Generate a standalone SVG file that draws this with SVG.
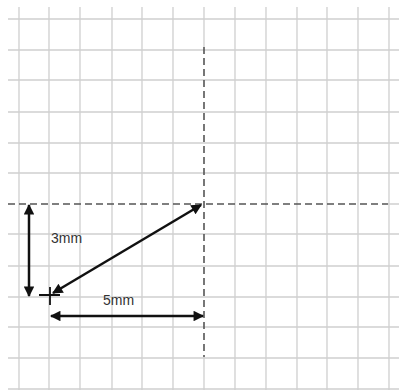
<svg xmlns="http://www.w3.org/2000/svg" width="399" height="390" viewBox="0 0 399 390">
<defs>
<style>
.grid{stroke:#cfcfcf;stroke-width:1.3;fill:none}
.dash{stroke:#555;stroke-width:1.6;stroke-dasharray:7 4;fill:none}
.arr{stroke:#111;stroke-width:2.5;fill:none;marker-start:url(#ah);marker-end:url(#ah)}
.lbl{font-family:"Liberation Sans",Arial,sans-serif;font-size:14px;fill:#333}
</style>
<marker id="ah" viewBox="0 0 10 10" refX="9" refY="5" markerWidth="5" markerHeight="4.2" orient="auto-start-reverse" markerUnits="strokeWidth">
<path d="M0,0 L10,5 L0,10 z" fill="#111"/>
</marker>
</defs>
<rect width="399" height="390" fill="#fff"/>
<g id="grid">
<path class="grid" d="M19,7V390 M49,7V390 M80,7V390 M112,7V390 M142,7V390 M173,7V390 M235,7V390 M266,7V390 M297,7V390 M327,7V390 M358,7V390 M389,7V390 M204,7V47"/>
<path class="grid" d="M8,19H399 M8,50H399 M8,80H399 M8,112H399 M8,143H399 M8,173H399 M8,234H399 M8,266H399 M8,297H399 M8,327H399 M8,358H399 M8,389H399 M388,204H399 M204,357V390"/>
</g>
<g id="axes">
<path class="dash" d="M8,204H388"/>
<path class="dash" d="M204,47V357"/>
</g>
<g id="cross">
<path d="M39,295H60 M50,287V305" stroke="#111" stroke-width="1.8"/>
</g>
<g id="connectors">
<path class="arr" d="M29,205V296"/>
<path class="arr" d="M53,293L201,205"/>
<path class="arr" d="M51,316H203"/>
</g>
<g id="labels">
<text class="lbl" x="51" y="243">3mm</text>
<text class="lbl" x="103" y="305">5mm</text>
</g>
</svg>
